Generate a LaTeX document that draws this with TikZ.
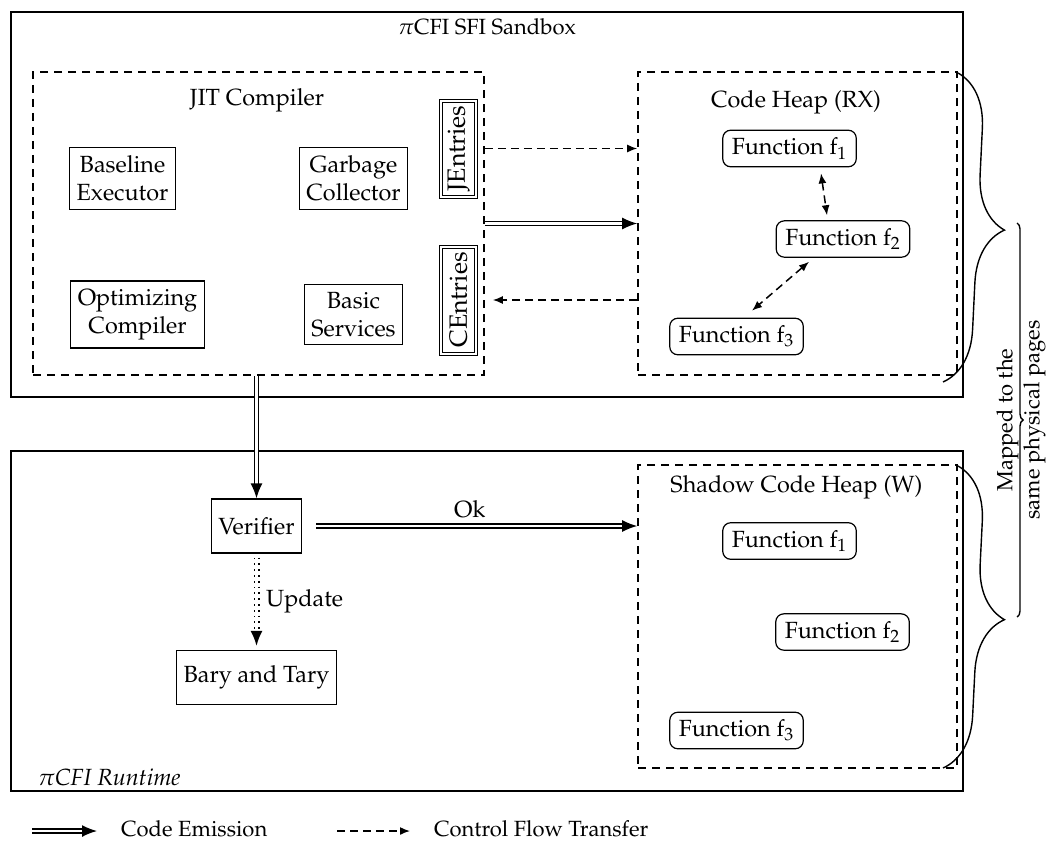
\documentclass[tikz,border=0pt]{standalone}
\usepackage[T1]{fontenc}
\usepackage{mathpazo}
\usetikzlibrary{arrows.meta,decorations.pathreplacing,fit,calc}
\begin{document}
\begin{tikzpicture}[x=0.5pt,y=-0.5pt,
  font=\fontsize{11.7}{14}\selectfont,
  smallfont/.style={font=\fontsize{11}{13.5}\selectfont},
  outerbox/.style={draw, line width=1pt, inner sep=0pt},
  dbox/.style={draw, dash pattern=on 4pt off 3pt, line width=0.8pt, inner sep=0pt},
  blk/.style={draw, line width=0.6pt, align=center, inner xsep=3.5pt, inner ysep=4pt},
  func/.style={draw, rounded corners=4pt, line width=0.6pt, inner xsep=4.5pt, inner ysep=3.8pt},
  entry/.style={draw, double, double distance=1pt, line width=0.5pt, rotate=90, inner sep=1pt,
    font=\fontsize{12.5}{14}\selectfont, minimum height=17.5pt},
  emit/.style={double, double distance=1.4pt, line width=0.75pt, -{Latex[length=7.5pt,width=6pt]}},
  cft/.style={dash pattern=on 4pt off 2.5pt, line width=0.75pt, -{Latex[length=5pt,width=4pt]}},
  cftb/.style={dash pattern=on 4pt off 2.5pt, line width=0.75pt, {Latex[length=5pt,width=4pt]}-{Latex[length=5pt,width=4pt]}},
  upd/.style={double, double distance=1.2pt, line width=0.9pt, dotted, -{Latex[length=7.5pt,width=6pt]}},
  bigbrace/.style={decorate, decoration={brace, amplitude=27pt}, line width=0.7pt},
  smallbrace/.style={decorate, decoration={brace, amplitude=3pt}, line width=0.7pt}
]
\useasboundingbox (0,0) rectangle (1052,840);

% outer boxes
\coordinate (sfiA) at (11,12); \coordinate (sfiB) at (963,397);
\node[outerbox, fit=(sfiA)(sfiB)] (sfi) {};
\node[smallfont] (sfit) at (487,27) {$\pi$CFI SFI Sandbox};

\coordinate (rtA) at (11,451); \coordinate (rtB) at (963,791);
\node[outerbox, fit=(rtA)(rtB)] (rt) {};
\node[anchor=west] (rtt) at (31,777) {\textit{$\pi$CFI Runtime}};

% JIT compiler
\coordinate (jitA) at (33,72); \coordinate (jitB) at (484,375);
\node[dbox, fit=(jitA)(jitB)] (jit) {};
\node (jitl) at (257,100) {JIT Compiler};
\node[blk] (base) at (122.5,178.5) {Baseline\\Executor};
\node[blk] (gc) at (353.5,178.5) {Garbage\\Collector};
\node[blk] (opt) at (137.5,314.5) {Optimizing\\Compiler};
\node[blk] (bs) at (353.5,314.5) {Basic\\Services};
\node[entry, minimum width=48pt] (je) at (458.5,148.5) {JEntries};
\node[entry, minimum width=53.5pt] (ce) at (458.5,300) {CEntries};

% code heap
\coordinate (hA) at (638,72); \coordinate (hB) at (957,375);
\node[dbox, fit=(hA)(hB)] (heap) {};
\node (heapl) at (796,102) {Code Heap (RX)};
\node[func] (f1) at (789.5,148.5) {Function f$_1$};
\node[func] (f2) at (843,239) {Function f$_2$};
\node[func] (f3) at (736.5,336.5) {Function f$_3$};

% shadow heap
\coordinate (sA) at (638,465); \coordinate (sB) at (957,768);
\node[dbox, fit=(sA)(sB)] (shadow) {};
\node (shadowl) at (796.5,487) {Shadow Code Heap (W)};
\node[func] (s1) at (789.5,541) {Function f$_1$};
\node[func] (s2) at (842.5,632) {Function f$_2$};
\node[func] (s3) at (736.5,730.5) {Function f$_3$};

% runtime
\node[blk, minimum height=27pt, inner xsep=3.5pt] (ver) at (256.5,526) {Verifier};
\node[blk, minimum height=27pt, inner xsep=3.5pt] (bary) at (256.5,677.5) {Bary and Tary};

% connectors in sandbox
\draw[cft] (jit.east |- je) -- (heap.west |- je);
\draw[emit] (jit.east) -- (heap.west);
\draw[cft, shorten >=4pt] (heap.west |- ce) -- (jit.east |- ce);
\draw[cftb] ([xshift=15.75pt,yshift=-3pt]f1.south) -- ([xshift=-8pt,yshift=2.5pt]f2.north);
\draw[cftb] ([xshift=-17pt,yshift=-2pt]f2.south) -- ([xshift=7.75pt,yshift=3.5pt]f3.north);

% emission to verifier
\draw[emit] (jit.south -| ver) -- (ver.north);
\draw[emit, shorten <=7pt] (ver.east) -- node[above=0.5pt] (okl) {Ok} (shadow.west |- ver);
\draw[upd, shorten <=2pt, shorten >=2pt] (ver.south) -- node[right=1pt] (updl) {Update} (bary.north);

% braces
\draw[bigbrace] (958,73) -- (943,382);
\draw[bigbrace] (958,466) -- (943,768);
\draw[smallbrace] (1017,223) -- (1017,617);
\node[smallfont, rotate=90, align=center] (mapl) at (1021,420) {Mapped to the\\same physical pages};

% legend
\coordinate (l1a) at (32,831); \coordinate (l1b) at (97,831);
\draw[emit] (l1a) -- (l1b);
\node[smallfont, anchor=west] (l1t) at (114,829) {Code Emission};
\coordinate (l2a) at (337,831); \coordinate (l2b) at (410,831);
\draw[cft] (l2a) -- (l2b);
\node[smallfont, anchor=west] (l2t) at (427,829) {Control Flow Transfer};
\end{tikzpicture}
\end{document}
